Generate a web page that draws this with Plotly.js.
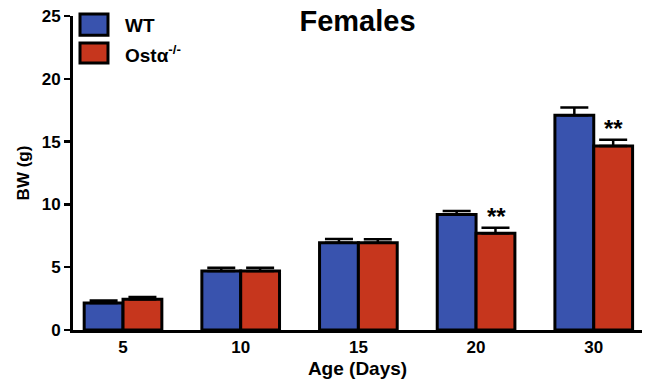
<!DOCTYPE html>
<html>
<head>
<meta charset="utf-8">
<script src="https://cdn.plot.ly/plotly-3.0.1.min.js"></script>
<style>html,body{margin:0;padding:0;background:#fff;}#chart{width:648px;height:384px;}</style>
</head>
<body>
<div id="chart"></div>
<script>
// Data
const ages = ['5', '10', '15', '20', '30'];
const wtMean = [2.15, 4.7, 6.95, 9.2, 17.1];
const wtSem = [0.2, 0.25, 0.3, 0.27, 0.62];
const koMean = [2.45, 4.7, 6.95, 7.7, 14.65];
const koSem = [0.17, 0.25, 0.27, 0.45, 0.5];
const koSig = ['', '', '', '**', '**'];
const seriesNames = ['WT', 'Ostα<sup>-/-</sup>'];
const seriesColors = ['#3953AE', '#C6361D'];

const FONT = 'Liberation Sans, Arial, Helvetica, sans-serif';

const traces = [
  {
    type: 'bar', name: seriesNames[0], x: ages, y: wtMean,
    marker: {color: seriesColors[0], line: {color: '#000', width: 3}},
    error_y: {type: 'data', array: wtSem, arrayminus: wtSem.map(() => 0), symmetric: false,
              color: '#000', thickness: 2.5, width: 14},
    showlegend: false
  },
  {
    type: 'bar', name: seriesNames[1], x: ages, y: koMean,
    marker: {color: seriesColors[1], line: {color: '#000', width: 3}},
    error_y: {type: 'data', array: koSem, arrayminus: koSem.map(() => 0), symmetric: false,
              color: '#000', thickness: 2.5, width: 14},
    showlegend: false
  }
];

const annotations = [];
ages.forEach((a, i) => {
  if (koSig[i]) {
    annotations.push({
      x: i, y: koMean[i] + koSem[i], xref: 'x', yref: 'y',
      text: koSig[i], showarrow: false, xshift: 20, yshift: -4,
      yanchor: 'bottom', font: {family: FONT, size: 24, color: '#000', weight: 'bold'}
    });
  }
});
// legend labels
annotations.push({x: 0.088, y: 0.97, xref: 'paper', yref: 'paper', text: seriesNames[0],
  showarrow: false, xanchor: 'left', yanchor: 'middle',
  font: {family: FONT, size: 19, color: '#000', weight: 'bold'}});
annotations.push({x: 0.088, y: 0.88, xref: 'paper', yref: 'paper', text: seriesNames[1],
  showarrow: false, xanchor: 'left', yanchor: 'middle',
  font: {family: FONT, size: 19, color: '#000', weight: 'bold'}});

const shapes = [
  {type: 'rect', xref: 'paper', yref: 'paper', x0: 0.0123, x1: 0.0615, y0: 0.939, y1: 1.006,
   fillcolor: seriesColors[0], line: {color: '#000', width: 3}},
  {type: 'rect', xref: 'paper', yref: 'paper', x0: 0.0123, x1: 0.0615, y0: 0.850, y1: 0.914,
   fillcolor: seriesColors[1], line: {color: '#000', width: 3}}
];

const layout = {
  width: 648, height: 384,
  margin: {l: 73, r: 6, t: 16, b: 54},
  paper_bgcolor: '#fff', plot_bgcolor: '#fff',
  font: {family: FONT, color: '#000', weight: 'bold'},
  title: {text: 'Females', x: 0.5, xref: 'paper', y: 0.945, yref: 'container', yanchor: 'middle',
          font: {family: FONT, size: 29, color: '#000', weight: 'bold'}},
  barmode: 'group', bargap: 0.34, bargroupgap: 0,
  showlegend: false,
  xaxis: {
    type: 'category', range: [-0.425, 4.41],
    showline: true, linecolor: '#000', linewidth: 3, ticks: '', showgrid: false, zeroline: false,
    tickfont: {family: FONT, size: 17, color: '#000', weight: 'bold'},
    title: {text: 'Age (Days)', standoff: 6, font: {family: FONT, size: 19, color: '#000', weight: 'bold'}}
  },
  yaxis: {
    range: [0, 25], dtick: 5, tick0: 0,
    showline: true, linecolor: '#000', linewidth: 3, ticks: 'outside', ticklen: 6, tickwidth: 2.5, tickcolor: '#000',
    showgrid: false, zeroline: false,
    tickfont: {family: FONT, size: 17, color: '#000', weight: 'bold'},
    title: {text: 'BW (g)', standoff: 8, font: {family: FONT, size: 17, color: '#000', weight: 'bold'}}
  },
  annotations: annotations,
  shapes: shapes
};

Plotly.newPlot('chart', traces, layout, {displayModeBar: false, staticPlot: true});
</script>
</body>
</html>
